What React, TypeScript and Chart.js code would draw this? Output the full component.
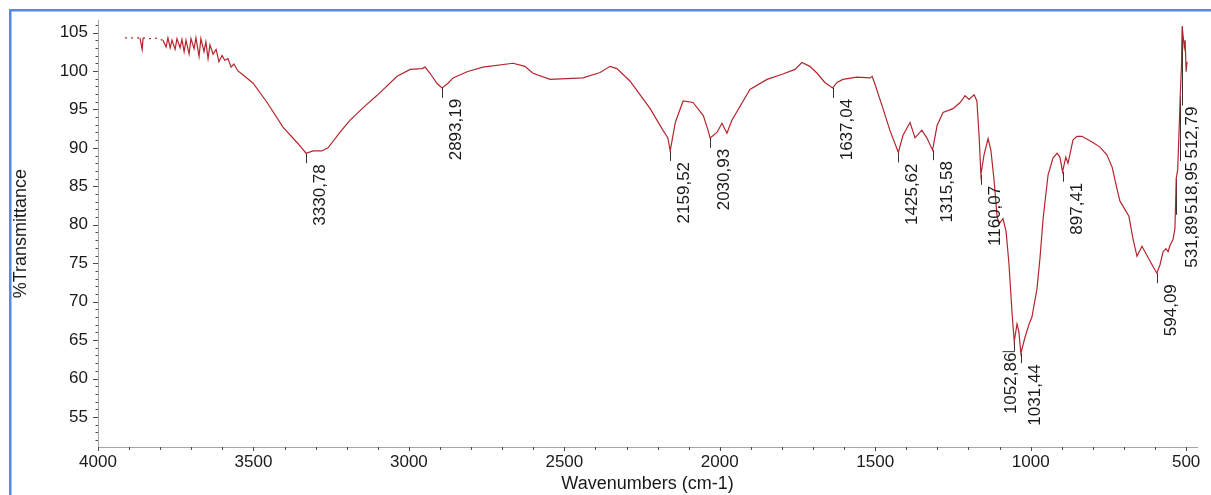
import React, { useEffect, useRef } from "react";
import { Chart, registerables } from "chart.js";

Chart.register(...registerables);

// ---- data ----
const wavenumbers: number[] = [
  3913, 3897, 3881, 3865, 3858, 3855, 3833, 3817, 3801, 3791, 3781, 3775, 3768, 3762, 3752, 3746,
  3736, 3730, 3723, 3717, 3707, 3701, 3691, 3685, 3675, 3669, 3659, 3653, 3646, 3640, 3630, 3620,
  3611, 3601, 3592, 3582, 3572, 3563, 3550, 3537, 3501, 3456, 3405, 3360, 3330.78, 3308, 3280, 3260,
  3222, 3189, 3148, 3103, 3038, 2996, 2958, 2948, 2932, 2910, 2893.19, 2874, 2858, 2813, 2762, 2665,
  2627, 2601, 2546, 2440, 2385, 2353, 2331, 2289, 2224, 2183, 2167, 2159.52, 2143, 2118, 2086, 2053,
  2038, 2030.93, 2009, 1993, 1977, 1961, 1903, 1848, 1797, 1758, 1736, 1710, 1687, 1662, 1637.04, 1623,
  1604, 1559, 1517, 1510, 1501, 1475, 1453, 1425.62, 1411, 1388, 1372, 1350, 1334, 1315.58, 1301, 1282,
  1250, 1227, 1211, 1198, 1182, 1173, 1166, 1160.07, 1150, 1137, 1128, 1118, 1108, 1102, 1089, 1079,
  1070, 1060, 1052.86, 1044, 1038, 1031.44, 1018, 1005, 996, 980, 970, 960, 944, 928, 915, 906,
  897.41, 887, 880, 874, 864, 851, 835, 800, 777, 755, 738, 722, 713, 697, 684, 671,
  658, 642, 626, 607, 594.09, 584, 574, 565, 558, 552, 542, 536, 531.89, 527, 521, 518.95,
  515, 512.79, 506, 503, 500, 497,
];
const transmittance: number[] = [
  104.3, 104.3, 104.3, 104.3, 102.8, 104.3, 104.2, 104.3, 104.1, 104.0, 103.1, 104.3, 103.0, 104.0, 102.8, 104.2,
  103.0, 104.1, 102.5, 104.0, 102.2, 104.2, 102.9, 104.3, 101.9, 104.2, 102.5, 103.8, 101.6, 103.4, 102.2, 102.8,
  101.2, 102.0, 101.4, 101.6, 100.5, 100.9, 100.0, 99.6, 98.4, 95.9, 92.7, 90.7, 89.3, 89.6, 89.6, 90.0,
  92.0, 93.6, 95.2, 96.8, 99.3, 100.2, 100.3, 100.5, 99.7, 98.4, 97.8, 98.4, 99.1, 99.9, 100.5, 101.0,
  100.6, 99.7, 98.9, 99.1, 99.8, 100.6, 100.3, 98.7, 95.1, 92.3, 91.3, 89.6, 93.3, 96.1, 95.9, 94.2,
  92.3, 91.3, 92.0, 93.2, 91.9, 93.6, 97.6, 98.9, 99.6, 100.2, 101.1, 100.6, 99.7, 98.5, 97.8, 98.5,
  98.9, 99.2, 99.1, 99.3, 98.3, 95.1, 92.3, 89.4, 91.6, 93.3, 91.3, 92.3, 91.3, 89.7, 92.9, 94.6,
  95.1, 95.9, 96.8, 96.3, 96.9, 96.1, 91.6, 86.5, 89.1, 91.2, 89.7, 85.9, 81.1, 80.1, 80.8, 79.1,
  75.0, 68.6, 64.8, 67.1, 66.1, 63.3, 65.4, 67.1, 68.0, 71.6, 75.7, 80.8, 86.5, 88.7, 89.3, 88.8,
  86.9, 88.8, 88.0, 89.1, 91.0, 91.5, 91.5, 90.7, 90.1, 89.1, 87.5, 84.6, 83.1, 82.0, 81.1, 78.2,
  75.9, 77.2, 76.0, 74.6, 73.7, 74.8, 76.5, 76.9, 76.5, 77.3, 78.1, 79.5, 86.0, 87.2, 94.2, 96.7,
  100.6, 105.8, 103.1, 104.0, 99.9, 101.2,
];

const peakWavenumbers: number[] = [
  3330.78, 2893.19, 2159.52, 2030.93, 1637.04, 1425.62, 1315.58, 1160.07,
  1052.86, 1031.44, 897.41, 594.09, 531.89, 518.95, 512.79,
];
const peakLabels: string[] = [
  "3330,78", "2893,19", "2159,52", "2030,93", "1637,04", "1425,62", "1315,58", "1160,07",
  "1052,86", "1031,44", "897,41", "594,09", "531,89", "518,95", "512,79",
];

const xTickValues: number[] = [4000, 3500, 3000, 2500, 2000, 1500, 1000, 500];
const yTickValues: number[] = [55, 60, 65, 70, 75, 80, 85, 90, 95, 100, 105];

const xTitle = "Wavenumbers (cm-1)";
const yTitle = "%Transmittance";

// ---- layout / style (kept apart from the data) ----
const FONT = '"Liberation Sans", Arial, sans-serif';
const LABEL_FS = 17;
const labelLayout: Record<string, { dx?: number; topValue?: number }> = {
  "1052,86": { dx: -5 },
  "531,89": { dx: 14, topValue: 81.3 },
  "518,95": { dx: 10, topValue: 88.3 },
  "512,79": { dx: 8, topValue: 95.5 },
};

function interpT(w: number): number {
  for (let i = 0; i < wavenumbers.length - 1; i++) {
    const a = wavenumbers[i];
    const b = wavenumbers[i + 1];
    if (w <= a && w >= b) {
      const t = a === b ? 0 : (a - w) / (a - b);
      return transmittance[i] + t * (transmittance[i + 1] - transmittance[i]);
    }
  }
  return transmittance[transmittance.length - 1];
}

function labelGeom(chart: any, i: number) {
  const xs = chart.scales.x;
  const ys = chart.scales.y;
  const w = peakWavenumbers[i];
  const label = peakLabels[i];
  const lay = labelLayout[label] || {};
  const px = Math.round(xs.getPixelForValue(w)) + 0.5;
  const py = ys.getPixelForValue(interpT(w));
  const top = lay.topValue !== undefined ? ys.getPixelForValue(lay.topValue) : py + 10;
  const dx = lay.dx ?? 12;
  return { label, px, py, top, dx };
}

const decorPlugin = {
  id: "decor",
  beforeDraw(chart: any) {
    const ctx = chart.ctx;
    ctx.save();
    ctx.fillStyle = "#ffffff";
    ctx.fillRect(0, 0, chart.width, chart.height);
    ctx.strokeStyle = "#5b8ad8";
    ctx.lineWidth = 2.5;
    ctx.beginPath();
    ctx.moveTo(10.25, chart.height);
    ctx.lineTo(10.25, 10.25);
    ctx.lineTo(chart.width, 10.25);
    ctx.stroke();
    ctx.restore();
  },
  beforeDatasetsDraw(chart: any) {
    // leader lines of the peak labels, under the spectrum
    const ctx = chart.ctx;
    ctx.save();
    ctx.strokeStyle = "#333333";
    ctx.lineWidth = 1;
    peakWavenumbers.forEach((_, i) => {
      const g = labelGeom(chart, i);
      ctx.beginPath();
      ctx.moveTo(g.px, g.py);
      ctx.lineTo(g.px, g.top);
      if (g.dx < 0) ctx.lineTo(g.px + g.dx - 7, g.top);
      ctx.stroke();
    });
    ctx.restore();
  },
  afterDraw(chart: any) {
    const ctx = chart.ctx;
    const xs = chart.scales.x;
    const ys = chart.scales.y;
    const area = chart.chartArea;
    ctx.save();
    // minor / major ticks
    ctx.strokeStyle = "#4a4a4a";
    ctx.lineWidth = 1;
    ctx.beginPath();
    for (let v = Math.ceil(ys.min); v <= ys.max; v++) {
      const py = Math.round(ys.getPixelForValue(v)) + 0.5;
      const len = v % 5 === 0 ? 5 : 2.5;
      ctx.moveTo(area.left - len, py);
      ctx.lineTo(area.left, py);
    }
    for (let v = 500; v <= 4000; v += 100) {
      if (v < xs.min) continue;
      const px = Math.round(xs.getPixelForValue(v)) + 0.5;
      const len = v % 500 === 0 ? 4 : 3;
      ctx.moveTo(px, area.bottom);
      ctx.lineTo(px, area.bottom + len);
    }
    ctx.stroke();

    // peak labels
    ctx.font = `${LABEL_FS}px ${FONT}`;
    ctx.fillStyle = "#1a1a1a";
    peakWavenumbers.forEach((_, i) => {
      const g = labelGeom(chart, i);
      ctx.save();
      ctx.translate(g.px + g.dx + 0.358 * LABEL_FS, g.top + 1);
      ctx.rotate(-Math.PI / 2);
      ctx.textAlign = "right";
      ctx.textBaseline = "alphabetic";
      ctx.fillText(g.label, 0, 0);
      ctx.restore();
    });
    ctx.restore();
  },
};

export default function App() {
  const ref = useRef<HTMLCanvasElement>(null);
  useEffect(() => {
    if (!ref.current) return;
    const points = wavenumbers.map((w, i) => ({ x: w, y: transmittance[i] }));
    const chart = new Chart(ref.current, {
      type: "line",
      data: {
        datasets: [
          {
            data: points,
            borderColor: "#b4262d",
            borderWidth: 1.2,
            pointRadius: 0,
            tension: 0,
            fill: false,
            segment: {
              borderDash: (c: any) =>
                c.p0.parsed.x > 3795 && Math.abs(c.p0.parsed.y - c.p1.parsed.y) < 0.5 ? [2, 4] : undefined,
            },
          },
        ],
      },
      options: {
        responsive: false,
        animation: false,
        devicePixelRatio: 1,
        events: [],
        layout: { padding: { top: 13, right: 14, bottom: 0, left: 0 } },
        plugins: { legend: { display: false }, tooltip: { enabled: false } },
        scales: {
          x: {
            type: "linear",
            reverse: true,
            min: 465,
            max: 4000,
            grid: { display: false, drawTicks: false },
            border: { display: true, color: "#a6a6a6", width: 1 },
            ticks: {
              padding: 5,
              autoSkip: false,
              maxRotation: 0,
              color: "#1a1a1a",
              font: { family: FONT, size: 17 },
              callback: (v: any) => String(v),
            },
            afterBuildTicks: (s: any) => {
              s.ticks = xTickValues.map((v) => ({ value: v }));
            },
            afterFit: (s: any) => {
              s.height = 48;
            },
            title: {
              display: true,
              text: xTitle,
              color: "#1a1a1a",
              font: { family: FONT, size: 18 },
              padding: { top: 0, bottom: 0 },
            },
          },
          y: {
            type: "linear",
            min: 51.1,
            max: 106.6,
            grid: { display: false, drawTicks: false },
            border: { display: true, color: "#a6a6a6", width: 1 },
            ticks: {
              padding: 10,
              autoSkip: false,
              color: "#1a1a1a",
              font: { family: FONT, size: 17 },
              callback: (v: any) => String(v),
            },
            afterBuildTicks: (s: any) => {
              s.ticks = yTickValues.map((v) => ({ value: v }));
            },
            afterFit: (s: any) => {
              s.width = 98;
            },
            title: {
              display: true,
              text: yTitle,
              color: "#1a1a1a",
              font: { family: FONT, size: 18 },
              padding: { top: 10.7, bottom: 0 },
            },
          },
        },
      },
      plugins: [decorPlugin],
    } as any);
    return () => chart.destroy();
  }, []);
  return (
    <div style={{ position: "fixed", left: 0, top: 0, width: 1211, height: 495, background: "#fff" }}>
      <canvas ref={ref} width={1211} height={495} style={{ display: "block", width: 1211, height: 495 }} />
    </div>
  );
}
